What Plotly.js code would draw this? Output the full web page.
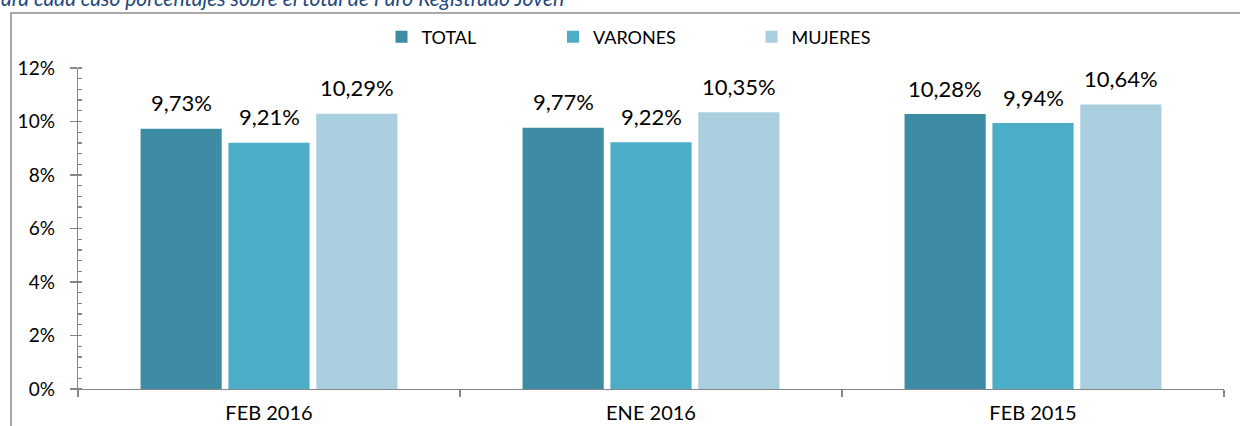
<!DOCTYPE html>
<html>
<head>
<meta charset="utf-8">
<script src="https://cdn.plot.ly/plotly-3.0.1.min.js"></script>
<style>html,body{margin:0;padding:0;background:#fff;}#chart{width:1240px;height:426px;}</style>
</head>
<body>
<div id="chart"></div>
<script>
var categories = ['FEB 2016', 'ENE 2016', 'FEB 2015'];
var seriesNames = ['TOTAL', 'VARONES', 'MUJERES'];
var total = [0.0973, 0.0977, 0.1028];
var varones = [0.0921, 0.0922, 0.0994];
var mujeres = [0.1029, 0.1035, 0.1064];
var yTickVals = [0, 0.02, 0.04, 0.06, 0.08, 0.10, 0.12];
var subtitle = 'ara cada caso porcentajes sobre el total de Paro Registrado Joven';

var colors = ['#3d8ca3', '#4badc6', '#a9cfde'];
var FONT = 'Lato, "Liberation Sans", Arial, sans-serif';
var W = 1240, H = 426, ML = 78, MR = 16, MT = 68, MB = 37;
var PW = W - ML - MR, PH = H - MT - MB;
function px2x(p) { return (p - ML) / PW; }
function py2y(p) { return (H - MB - p) / PH; }

var bargap = 0.31, bargroupgap = 0.076;
var allSeries = [total, varones, mujeres];
var legendIds = ['legend', 'legend2', 'legend3'];
var traces = allSeries.map(function (vals, i) {
  return {
    type: 'bar', x: categories, y: vals, name: seriesNames[i],
    marker: {color: colors[i]}, legend: legendIds[i],
    hoverinfo: 'none'
  };
});
// invisible trace for overlay axis with inside major ticks
traces.push({type: 'scatter', x: [categories[0]], y: [0], yaxis: 'y2', mode: 'markers',
  marker: {opacity: 0}, showlegend: false, hoverinfo: 'none'});

function fmt(v) { return (v * 100).toFixed(2).replace('.', ',') + '%'; }
var catW = PW / categories.length;
var slot = catW * (1 - bargap) / 3;
var annotations = [];
allSeries.forEach(function (vals, i) {
  vals.forEach(function (v, j) {
    annotations.push({
      x: categories[j], y: v, xref: 'x', yref: 'y', text: fmt(v), showarrow: false,
      xshift: (i - 1) * slot, yshift: 26, yanchor: 'middle', xanchor: 'center',
      font: {family: FONT, size: 22, color: '#000'}
    });
  });
});
annotations.push({
  x: px2x(-1), y: py2y(-3), xref: 'paper', yref: 'paper', xanchor: 'left', yanchor: 'middle',
  text: '<i>' + subtitle + '</i>', showarrow: false,
  font: {family: FONT, size: 21, color: '#1f497d'}
});

var legendSwatch = [397.5, 569, 767.5];
function mkLegend(i) {
  return {
    x: px2x(legendSwatch[i] - 16), y: py2y(37), xanchor: 'left', yanchor: 'middle',
    orientation: 'h', bgcolor: 'rgba(0,0,0,0)', borderwidth: 0,
    font: {family: FONT, size: 18, color: '#000'}
  };
}

var layout = {
  width: W, height: H,
  margin: {l: ML, r: MR, t: MT, b: MB},
  paper_bgcolor: '#fff', plot_bgcolor: '#fff',
  barmode: 'group', bargap: bargap, bargroupgap: bargroupgap,
  showlegend: true,
  legend: mkLegend(0), legend2: mkLegend(1), legend3: mkLegend(2),
  xaxis: {
    type: 'category', showgrid: false, showline: true, linecolor: '#868686', linewidth: 1.3,
    ticks: 'outside', tickson: 'boundaries', ticklen: 7, tickcolor: '#868686', tickwidth: 1.3,
    ticklabelstandoff: 6,
    tickfont: {family: FONT, size: 20, color: '#000'}, zeroline: false, fixedrange: true
  },
  yaxis: {
    range: [0, 0.12], tickvals: yTickVals, tickformat: '.0%',
    showgrid: false, zeroline: false, showline: true, linecolor: '#868686', linewidth: 1.3,
    ticks: 'outside', ticklen: 7, tickcolor: '#868686', tickwidth: 1.3,
    ticklabelstandoff: 11,
    minor: {dtick: 0.004, ticks: 'inside', ticklen: 4, tickcolor: '#868686', tickwidth: 1.3, showgrid: false},
    tickfont: {family: FONT, size: 19, color: '#000'}, fixedrange: true
  },
  yaxis2: {
    overlaying: 'y', range: [0, 0.12], tickvals: yTickVals, showticklabels: false,
    ticks: 'inside', ticklen: 4, tickcolor: '#868686', tickwidth: 1.3,
    showgrid: false, zeroline: false, showline: false, side: 'left', fixedrange: true
  },
  annotations: annotations,
  shapes: [{
    type: 'rect', xref: 'paper', yref: 'paper',
    x0: px2x(11), x1: px2x(1250), y0: py2y(440), y1: py2y(13),
    line: {color: '#8c8c8c', width: 1.5}, fillcolor: 'rgba(0,0,0,0)', layer: 'below'
  }]
};

Plotly.newPlot('chart', traces, layout, {displayModeBar: false, staticPlot: true});
</script>
</body>
</html>
